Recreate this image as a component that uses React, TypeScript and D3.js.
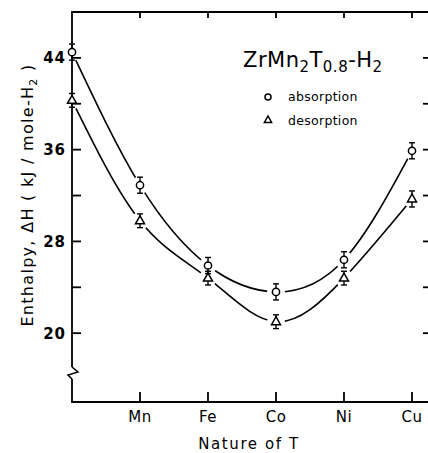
import React from "react";
import * as d3 from "d3";

// values
const metals = ["", "Mn", "Fe", "Co", "Ni", "Cu"];
const absorption = [44.5, 32.9, 25.9, 23.6, 26.4, 35.9];
const desorption = [40.3, 29.8, 24.8, 21.0, 24.8, 31.7];
const absErr = [0.7, 0.7, 0.7, 0.7, 0.7, 0.7];
const desErr = [0.6, 0.6, 0.6, 0.6, 0.6, 0.7];
const yTickLabels = [20, 28, 36, 44];
const yMinorTicks = [24, 32, 40];

const W = 428, H = 453;
const margin = { left: 72, top: 12, right: 0, bottom: 51 };
const font = "'DejaVu Sans', sans-serif";

export default function App() {
  const x = d3.scaleLinear().domain([0, 5.25]).range([margin.left, W + 1]);
  const y = d3.scaleLinear().domain([14, 48]).range([H - margin.bottom, margin.top]);

  const idx = d3.range(metals.length);
  const absPath = d3.line<number>().x(i => x(i)).y(i => y(absorption[i])).curve(d3.curveNatural)(idx) as string;
  const desPath = d3.line<number>().x(i => x(i)).y(i => y(desorption[i])).curve(d3.curveNatural)(idx) as string;

  const x0 = margin.left, x1 = W + 1, y0 = H - margin.bottom, y1 = margin.top;
  const tickLen = 9;

  const errBar = (cx: number, v: number, e: number, key: string) => {
    const top = y(v + e), bot = y(v - e);
    return (
      <g key={key} stroke="#000" strokeWidth={1.4}>
        <line x1={cx} x2={cx} y1={top} y2={bot} />
        <line x1={cx - 3} x2={cx + 3} y1={top} y2={top} />
        <line x1={cx - 3} x2={cx + 3} y1={bot} y2={bot} />
      </g>
    );
  };
  const tri = (cx: number, cy: number, s: number) =>
    `M${cx},${cy - s}L${cx + s * 0.9},${cy + s * 0.6}L${cx - s * 0.9},${cy + s * 0.6}Z`;

  const breakY = 373;

  return (
    <svg width={W} height={H} style={{ position: "absolute", left: 0, top: 0, background: "#fff" }}>
      <rect width={W} height={H} fill="#fff" />
      {/* fitted curves */}
      <path d={absPath} fill="none" stroke="#000" strokeWidth={1.6} />
      <path d={desPath} fill="none" stroke="#000" strokeWidth={1.6} />
      {/* gaps around the data points */}
      {idx.map(i => (
        <g key={"m" + i} fill="#fff">
          <circle cx={x(i)} cy={y(absorption[i])} r={9} />
          <circle cx={x(i)} cy={y(desorption[i])} r={9} />
        </g>
      ))}

      {/* frame */}
      <g stroke="#000" strokeWidth={1.8} fill="none">
        <path d={`M${x0},${breakY - 6}V${y1}H${x1}`} />
        <path d={`M${x0},${breakY + 6}V${y0}H${x1}`} />
        <path d={`M${x0},${breakY - 6}L${x0 + 6},${breakY - 1}L${x0 - 4},${breakY + 2}L${x0},${breakY + 6}`} strokeWidth={1.5} />
        {/* y ticks left and right */}
        {[...yTickLabels, ...yMinorTicks].map(v => (
          <g key={"yt" + v}>
            <line x1={x0} x2={x0 + tickLen} y1={y(v)} y2={y(v)} />
            <line x1={W - 5} x2={W} y1={y(v)} y2={y(v)} />
          </g>
        ))}
        {/* x ticks bottom and top */}
        {idx.slice(1).map(i => (
          <g key={"xt" + i}>
            <line x1={x(i)} x2={x(i)} y1={y0} y2={y0 - 10} />
            <line x1={x(i)} x2={x(i)} y1={y1} y2={y1 + 6} />
          </g>
        ))}
      </g>

      {/* y tick labels */}
      {yTickLabels.map(v => (
        <text key={"yl" + v} x={x0 - 6} y={y(v)} dy="0.36em" textAnchor="end"
          fontFamily={font} fontWeight="bold" fontSize={15} letterSpacing={1}>{v}</text>
      ))}
      {/* x tick labels */}
      {idx.slice(1).map(i => (
        <text key={"xl" + i} x={x(i)} y={y0 + 20} textAnchor="middle"
          fontFamily={font} fontSize={15} letterSpacing={0.5}>{metals[i]}</text>
      ))}
      <text x={249} y={449} textAnchor="middle" fontFamily={font} fontSize={15} letterSpacing={1.6}>Nature of T</text>
      <text transform={`translate(33,195) rotate(-90)`} textAnchor="middle" fontFamily={font} fontSize={16} letterSpacing={1.3}>
        Enthalpy, ΔH  ( kJ / mole-H<tspan dy={4} fontSize={11}>2</tspan><tspan dy={-4}> )</tspan>
      </text>

      {/* error bars and markers */}
      {idx.map(i => errBar(x(i), absorption[i], absErr[i], "ea" + i))}
      {idx.map(i => errBar(x(i), desorption[i], desErr[i], "ed" + i))}
      {idx.map(i => (
        <g key={"pt" + i} stroke="#000" strokeWidth={1.5} fill="#fff">
          <circle cx={x(i)} cy={y(absorption[i])} r={3.6} />
          <path d={tri(x(i), y(desorption[i]), 5)} />
        </g>
      ))}

      {/* legend */}
      <text x={243} y={67} fontFamily={font} fontSize={21} letterSpacing={0.5}>
        ZrMn<tspan dy={5} fontSize={15}>2</tspan><tspan dy={-5}>T</tspan><tspan dy={5} fontSize={15}>0.8</tspan><tspan dy={-5}>-H</tspan><tspan dy={5} fontSize={15}>2</tspan>
      </text>
      <circle cx={268} cy={97} r={3} fill="#fff" stroke="#000" strokeWidth={1.5} />
      <text x={288} y={101} fontFamily={font} fontSize={12.5} letterSpacing={0.3}>absorption</text>
      <path d={tri(268, 120, 4)} fill="#fff" stroke="#000" strokeWidth={1.5} />
      <text x={288} y={125} fontFamily={font} fontSize={12.5} letterSpacing={0.3}>desorption</text>
    </svg>
  );
}
